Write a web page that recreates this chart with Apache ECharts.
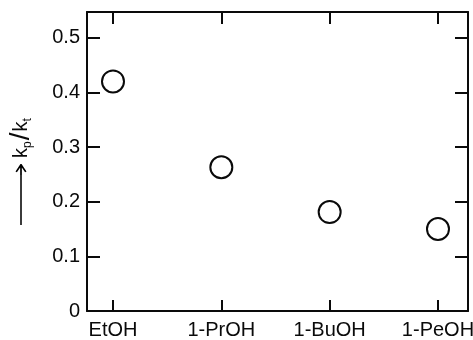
<!DOCTYPE html>
<html>
<head>
<meta charset="utf-8">
<script src="https://cdn.jsdelivr.net/npm/echarts@6/dist/echarts.min.js"></script>
<style>
  html, body { margin: 0; padding: 0; background: #fff; }
  #chart { width: 473px; height: 340px; }
</style>
</head>
<body>
<div id="chart"></div>
<script>
// solvents on the x axis, k_p/k_t
const solvents = ['EtOH', '1-PrOH', '1-BuOH', '1-PeOH'];
const ratioKpKt = [0.42, 0.263, 0.181, 0.15];
const yTickValues = [0, 0.1, 0.2, 0.3, 0.4, 0.5];
const xTickValues = [0, 1, 2, 3];

const chart = echarts.init(document.getElementById('chart'));
const font = 'Liberation Sans';
const ink = '#0a0a0a';
const lineStyle = { color: ink, width: 2 };

// arrow head for the axis title (open chevron)
const headSvg = "<svg xmlns='http://www.w3.org/2000/svg' width='11' height='12'>" +
  "<path d='M0 6H10M3 1.2L10.2 6L3 10.8' fill='none' stroke='black' stroke-width='1.7'/></svg>";
const headUri = 'data:image/svg+xml;charset=utf-8,' + encodeURIComponent(headSvg);

// frame axis: line + inside ticks, no labels
function frameAxis(extra) {
  return Object.assign({
    type: 'value',
    axisLine: { show: true, onZero: false, lineStyle: lineStyle },
    axisTick: { show: true, inside: true, length: 12, lineStyle: lineStyle },
    axisLabel: { show: false },
    splitLine: { show: false }
  }, extra);
}

const option = {
  animation: false,
  backgroundColor: '#fff',
  grid: { left: 87, right: 5, top: 12, bottom: 29, containLabel: false, outerBoundsMode: 'none' },
  xAxis: [
    frameAxis({
      position: 'bottom', min: -0.24, max: 3.277,
      axisTick: { show: true, inside: true, length: 11, lineStyle: lineStyle, customValues: xTickValues },
      axisLabel: {
        show: true, customValues: xTickValues, margin: 9,
        fontFamily: font, fontSize: 20, color: ink,
        formatter: v => solvents[Math.round(v)]
      }
    }),
    frameAxis({
      position: 'top', min: -0.24, max: 3.277,
      axisTick: { show: true, inside: true, length: 12, lineStyle: lineStyle, customValues: xTickValues }
    })
  ],
  yAxis: [
    frameAxis({
      position: 'left', min: 0, max: 0.547,
      axisTick: { show: true, inside: true, length: 13, lineStyle: lineStyle, customValues: yTickValues.slice(1) },
      axisLabel: {
        show: true, customValues: yTickValues, margin: 7,
        fontFamily: font, fontSize: 20, color: ink,
        formatter: v => v === 0 ? '0' : v.toFixed(1)
      },
      name: '{shaft| }{head| }{gap| }{k|k}{sub|p}{sl|/}{k|k}{sub|t}{pad| }',
      nameLocation: 'middle', nameRotate: 90, nameGap: 53,
      nameTextStyle: {
        rich: {
          shaft: { width: 50, height: 1.6, backgroundColor: ink },
          head: { width: 11, height: 12, backgroundColor: { image: headUri } },
          gap: { width: 6, height: 2 },
          k: { fontFamily: font, fontSize: 20, color: ink, lineHeight: 26 },
          sl: { fontFamily: font, fontSize: 28, color: ink, lineHeight: 26, padding: [0, 1, 0, 1] },
          sub: { fontFamily: font, fontSize: 12, color: ink, verticalAlign: 'bottom', lineHeight: 16 },
          pad: { width: 20, height: 2 }
        }
      }
    }),
    frameAxis({
      position: 'right', min: 0, max: 0.547,
      axisTick: { show: true, inside: true, length: 13, lineStyle: lineStyle, customValues: yTickValues.slice(1) }
    })
  ],
  series: [{
    type: 'scatter',
    xAxisIndex: 0, yAxisIndex: 0,
    symbol: 'circle', symbolSize: 22,
    itemStyle: { color: '#fff', borderColor: ink, borderWidth: 2, opacity: 1 },
    data: solvents.map((s, i) => [i, ratioKpKt[i]])
  }]
};

chart.setOption(option);
</script>
</body>
</html>
